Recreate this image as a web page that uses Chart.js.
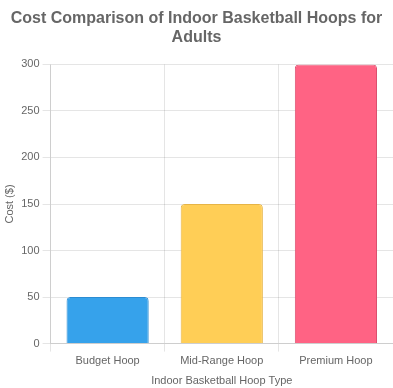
<!DOCTYPE html>
<html><head><meta charset="utf-8">
<script src="https://cdn.jsdelivr.net/npm/chart.js"></script>
<style>html,body{margin:0;padding:0;background:#fff}#wrap{width:393px;height:388px}</style>
</head><body><div id="wrap"><canvas id="c"></canvas></div>
<script>
const categories = ["Budget Hoop", "Mid-Range Hoop", "Premium Hoop"];
const costs = [50, 150, 300];
const titleLines = ["Cost Comparison of Indoor Basketball Hoops for", "Adults"];
const barColors = ["rgb(54,162,235)", "rgb(255,206,86)", "rgb(255,99,132)"];
const borderColors = ["rgb(44,140,210)", "rgb(230,180,70)", "rgb(220,80,110)"];
Chart.defaults.font.family = "Arial, 'Liberation Sans', sans-serif";
Chart.defaults.font.size = 11;
new Chart(document.getElementById('c'), {
  type: 'bar',
  data: { labels: categories, datasets: [{ label: 'Cost ($)', data: costs, backgroundColor: barColors, borderColor: borderColors, borderWidth: 1, borderRadius: 4 }] },
  options: {
    responsive: true, maintainAspectRatio: false, animation: false,
    layout: { padding: 0 },
    plugins: {
      legend: { display: false },
      title: { display: true, text: titleLines, font: { size: 16, weight: 'bold' }, color: '#666', padding: { top: 9, bottom: 17 } }
    },
    scales: {
      y: { beginAtZero: true, max: 300, ticks: { stepSize: 50, color: '#666' }, title: { display: true, text: 'Cost ($)', color: '#666', padding: { top: 3, bottom: 2 } } },
      x: { ticks: { color: '#666' }, title: { display: true, text: 'Indoor Basketball Hoop Type', color: '#666', padding: { top: 4, bottom: 0 } } }
    }
  }
});
</script></body></html>
